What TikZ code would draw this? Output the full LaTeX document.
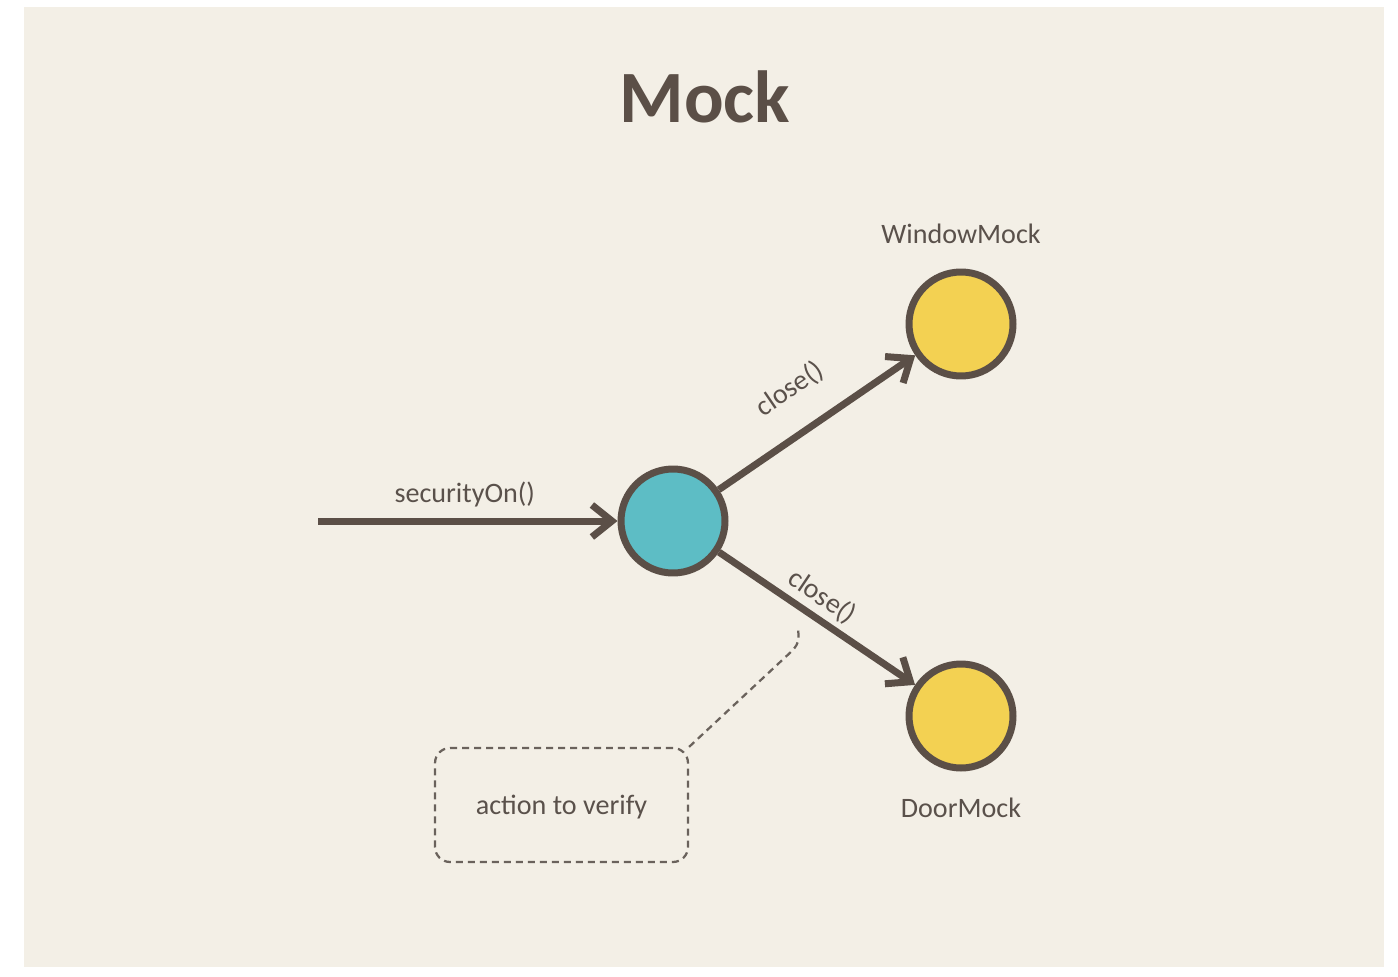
\documentclass[tikz,border=0pt]{standalone}
\usepackage{fontspec}
\setmainfont{Carlito}
\usetikzlibrary{arrows.meta}
\definecolor{paper}{HTML}{F3EFE6}
\definecolor{umber}{HTML}{5B4F47}
\definecolor{labelgray}{HTML}{5A514B}
\definecolor{dashgray}{HTML}{6A625C}
\definecolor{teal}{HTML}{5DBDC5}
\definecolor{sun}{HTML}{F3D152}
\begin{document}
\begin{tikzpicture}[x=0.02cm,y=-0.02cm,
  ball/.style={circle,draw=umber,line width=0.14cm,minimum size=2.08cm,inner sep=0pt},
  call/.style={line width=0.14cm,umber,-{Straight Barb[length=0.4cm,width=0.64cm]}},
  txt/.style={font=\fontsize{16}{19}\selectfont,text=labelgray,inner sep=0pt},
  note/.style={draw=dashgray,line width=0.045cm,dash pattern=on 0.14cm off 0.1cm}]
\useasboundingbox (0,0) rectangle (1398,976);
\fill[white] (0,0) rectangle (1398,976);
\fill[paper] (24,7) rectangle (1384,967);
\node[anchor=base,font=\bfseries\fontsize{42}{50}\selectfont,text=umber,inner sep=0pt] (title) at (705,123) {Mock};
% the three objects
\node[ball,fill=teal] (sec) at (673,521) {};
\node[ball,fill=sun] (win) at (961,324) {};
\node[ball,fill=sun] (door) at (961,716) {};
\node[txt,anchor=base] (winlab) at (961,244) {WindowMock};
\node[txt,anchor=base] (doorlab) at (961,817) {DoorMock};
% calls
\coordinate (start) at (318,521);
\draw[call] (start) -- node[txt,anchor=base,yshift=0.38cm,pos=0.49] (seclab) {securityOn()} (sec);
\draw[call] (sec) -- node[txt,sloped,pos=0.484,yshift=0.86cm] (closeup) {close()} (win);
\draw[call] (sec) -- node[txt,sloped,pos=0.467,yshift=0.42cm] (closedown) {close()} (door);
% note
\node[note,txt,text depth=0pt,rounded corners=0.3cm,minimum width=5.06cm,minimum height=2.28cm] (verify) at (561.5,805) {action to verify};
\coordinate (tip) at (798,627);
\draw[note] (verify.north east) -- (793,650) .. controls (799,642) .. (tip);
\end{tikzpicture}
\end{document}
